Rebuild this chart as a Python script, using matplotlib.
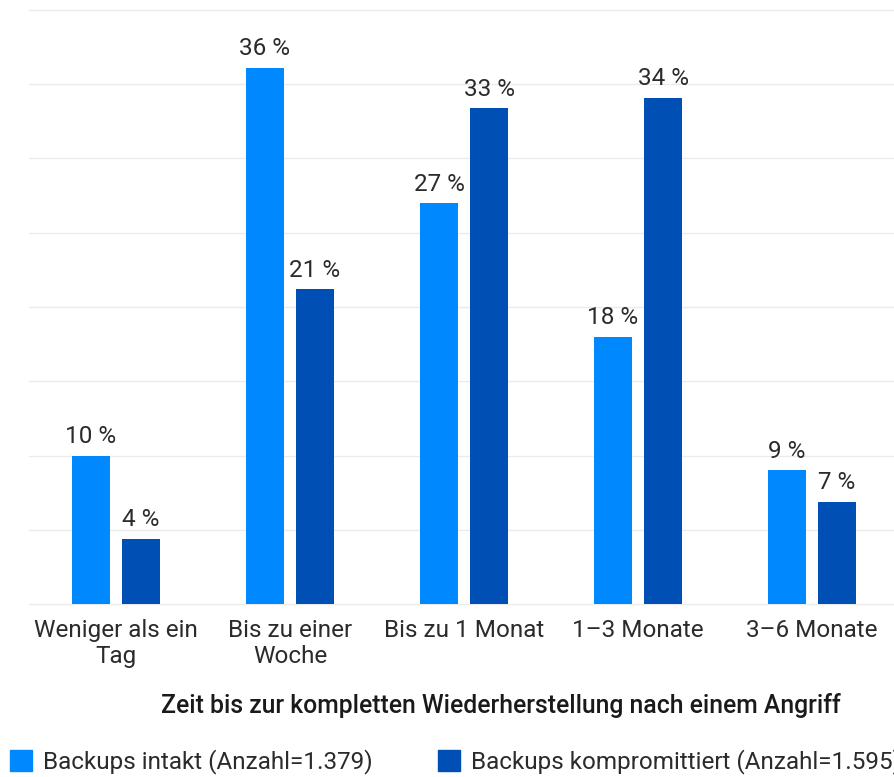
import matplotlib.pyplot as plt
import numpy as np
from matplotlib.patches import Patch

categories = ["Weniger als ein\nTag", "Bis zu einer\nWoche", "Bis zu 1 Monat", "1–3 Monate", "3–6 Monate"]
intakt = [10, 36.1, 27, 18, 9]
kompromittiert = [4.4, 21.2, 33.4, 34.1, 6.9]
series_labels = ["Backups intakt (Anzahl=1.379)", "Backups kompromittiert (Anzahl=1.595)"]
colors = ["#0088FF", "#004FB4"]

plt.rcParams['font.family'] = ['Roboto', 'DejaVu Sans']

W, H = 894, 777
fig = plt.figure(figsize=(W / 100, H / 100), dpi=100)
# plot area in pixels: x 29..899, y 10..604
ax = fig.add_axes([29 / W, 1 - 604 / H, 870 / W, 594 / H])

x = np.arange(len(categories))
bar_width = 0.218
offset = 0.1437

for vals, col, dx in [(intakt, colors[0], -offset), (kompromittiert, colors[1], offset)]:
    bars = ax.bar(x + dx, vals, bar_width, color=col, zorder=3)
    for b, v in zip(bars, vals):
        ax.text(b.get_x() + b.get_width() / 2, v + 0.5, f"{round(v)} %", ha='center', va='bottom',
                fontsize=17.5, color='#2b2b2b')

ax.set_xlim(-0.5, len(categories) - 0.5)
ax.set_ylim(0, 40)
ax.set_yticks(np.arange(0, 41, 5))
ax.yaxis.grid(True, color='#ebebeb', linewidth=1, zorder=0)
ax.set_yticklabels([])
ax.tick_params(axis='y', length=0)
ax.tick_params(axis='x', length=0, pad=11, labelsize=17.5, labelcolor='#2b2b2b')
ax.set_xticks(x)
ax.set_xticklabels(categories, linespacing=1.15)
for s in ax.spines.values():
    s.set_visible(False)
for gl in ax.yaxis.get_gridlines():
    gl.set_clip_on(False)

fig.text(501 / W, 1 - 706 / H, "Zeit bis zur kompletten Wiederherstellung nach einem Angriff",
         ha='center', va='center', fontsize=17.8, fontweight='medium', color='#1a1a1a')

handles = [Patch(color=c) for c in colors]
fig.legend(handles, series_labels, loc='center left', bbox_to_anchor=(-12 / W, 1 - 762 / H),
           ncol=2, frameon=False, prop={'size': 17.5},
           handlelength=0.9, handleheight=0.9,
           handletextpad=0.45, columnspacing=2.7, labelcolor='#2b2b2b')

fig.savefig("out.png", dpi=100)
